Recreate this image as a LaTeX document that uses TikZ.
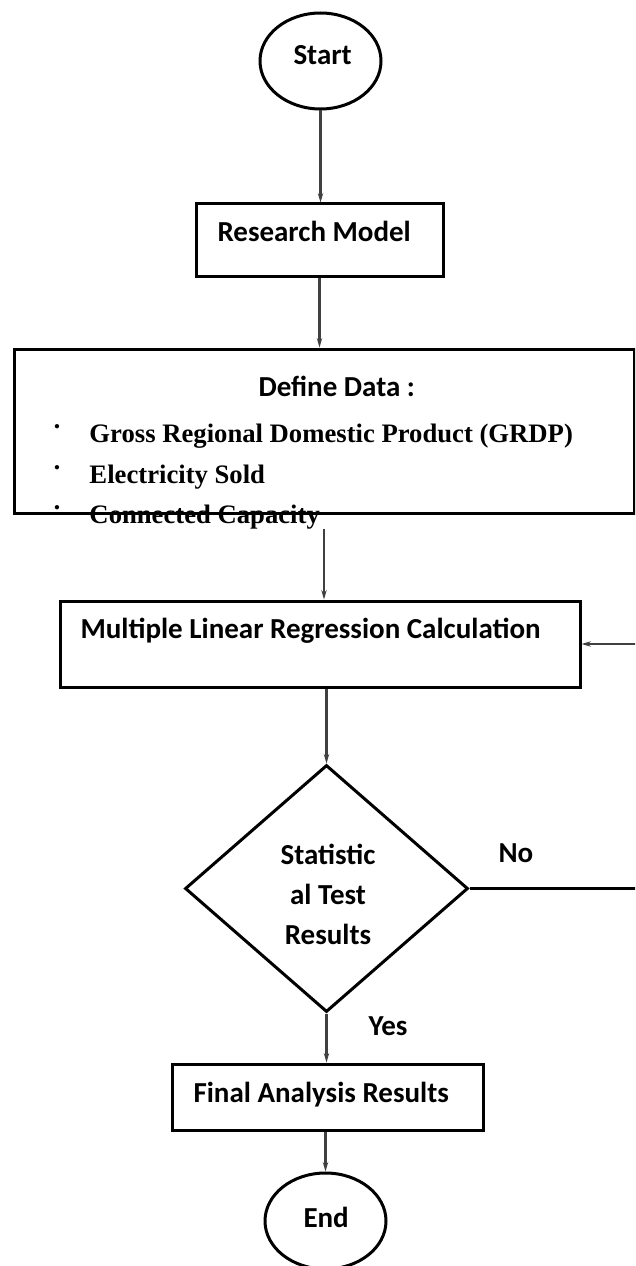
\documentclass[tikz,border=0pt]{standalone}
\usepackage{fontspec}
\setmainfont{Carlito}
\newfontfamily\itemfont{Liberation Serif}
\usetikzlibrary{shapes.geometric,arrows.meta}

\newcommand{\itembullet}{\makebox[27.75pt][l]{\raisebox{5pt}{·}}}

\tikzset{every picture/.style={line width=0.75pt}}
\tikzset{
  box/.style={draw, line width=2.25pt, rectangle, inner sep=0pt},
  terminal/.style={draw, line width=2.25pt, ellipse, inner sep=0pt, minimum width=90.75pt, minimum height=72pt},
  choice/.style={draw, line width=2.25pt, diamond, inner sep=0pt, minimum width=212.25pt, minimum height=185.25pt},
  label/.style={anchor=base west, inner sep=0pt, font=\bfseries\fontsize{21.75}{30}\selectfont},
  itemtext/.style={anchor=base west, inner sep=0pt, font=\itemfont\bfseries\fontsize{20}{24}\selectfont},
  flow/.style={draw={rgb, 255:red, 64; green, 64; blue, 64}, line width=1.6pt, -{Stealth[length=7pt,width=4pt]}},
}

\begin{document}
\begin{tikzpicture}[x=0.75pt,y=0.75pt,yscale=-1,xscale=1]
    \useasboundingbox (0,0) rectangle (635,1266);
    \clip (0,0) rectangle (635,1266);
    \fill[white] (0,0) rectangle (635,1266);
    %Shape: Ellipse [id:start]
    \node[terminal] (start) at (320.5,61) {};
    %Shape: Rectangle [id:model]
    \node[box, minimum width=185.25pt, minimum height=54pt] (model) at (319.5,240) {};
    %Shape: Rectangle [id:data]
    \node[box, minimum width=465pt, minimum height=123pt] (data) at (324,431) {};
    %Shape: Rectangle [id:mlr]
    \node[box, minimum width=390pt, minimum height=64.5pt] (mlr) at (320,644) {};
    %Shape: Diamond [id:test]
    \node[choice] (test) at (326.5,888.5) {};
    %Shape: Rectangle [id:final]
    \node[box, minimum width=233.25pt, minimum height=49.5pt] (final) at (327.5,1097) {};
    %Shape: Ellipse [id:end]
    \node[terminal] (end) at (325.5,1221) {};
    % Text Node
    \node[label] (start-t) at (293,65) {Start};
    % Text Node
    \node[label] (model-t) at (217,242) {Research Model};
    % Text Node
    \node[label] (data-t) at (258,396) {Define Data :};
    % Text Node
    \node[itemtext] (item-a) at (52,442) {\itembullet Gross Regional Domestic Product (GRDP)};
    % Text Node
    \node[itemtext] (item-b) at (52,483) {\itembullet Electricity Sold};
    % Text Node
    \node[itemtext] (item-c) at (52,523) {\itembullet Connected Capacity};
    % Text Node
    \node[label] (mlr-t) at (80,638) {Multiple Linear Regression Calculation};
    % Text Node
    \node[label, anchor=center, align=center] (test-t) at (328,894) {Statistic\\al Test\\Results};
    % Text Node
    \node[label] (no) at (498,862) {No};
    % Text Node
    \node[label] (yes) at (368,1035) {Yes};
    % Text Node
    \node[label] (final-t) at (193,1102) {Final Analysis Results};
    % Text Node
    \node[label] (end-t) at (303,1227) {End};
    %Straight Lines [id:flow]
    \draw[flow] (start.south) -- (start.south |- model.north);
    \draw[flow] (model.south) -- (model.south |- data.north);
    \draw[flow, shorten <=10.5pt] (data.south) -- (data.south |- mlr.north);
    \draw[flow] (mlr.south -| test.north) -- (test.north);
    \draw[flow] (test.south) -- (test.south |- final.north);
    \draw[flow] (final.south -| end.north) -- (end.north);
    %Straight Lines [id:loop]
    \coordinate (back) at (650,888.5);
    \draw[line width=2.5pt] (test.east) -- (back);
    \draw[flow] (back) |- (mlr.east);
\end{tikzpicture}
\end{document}
